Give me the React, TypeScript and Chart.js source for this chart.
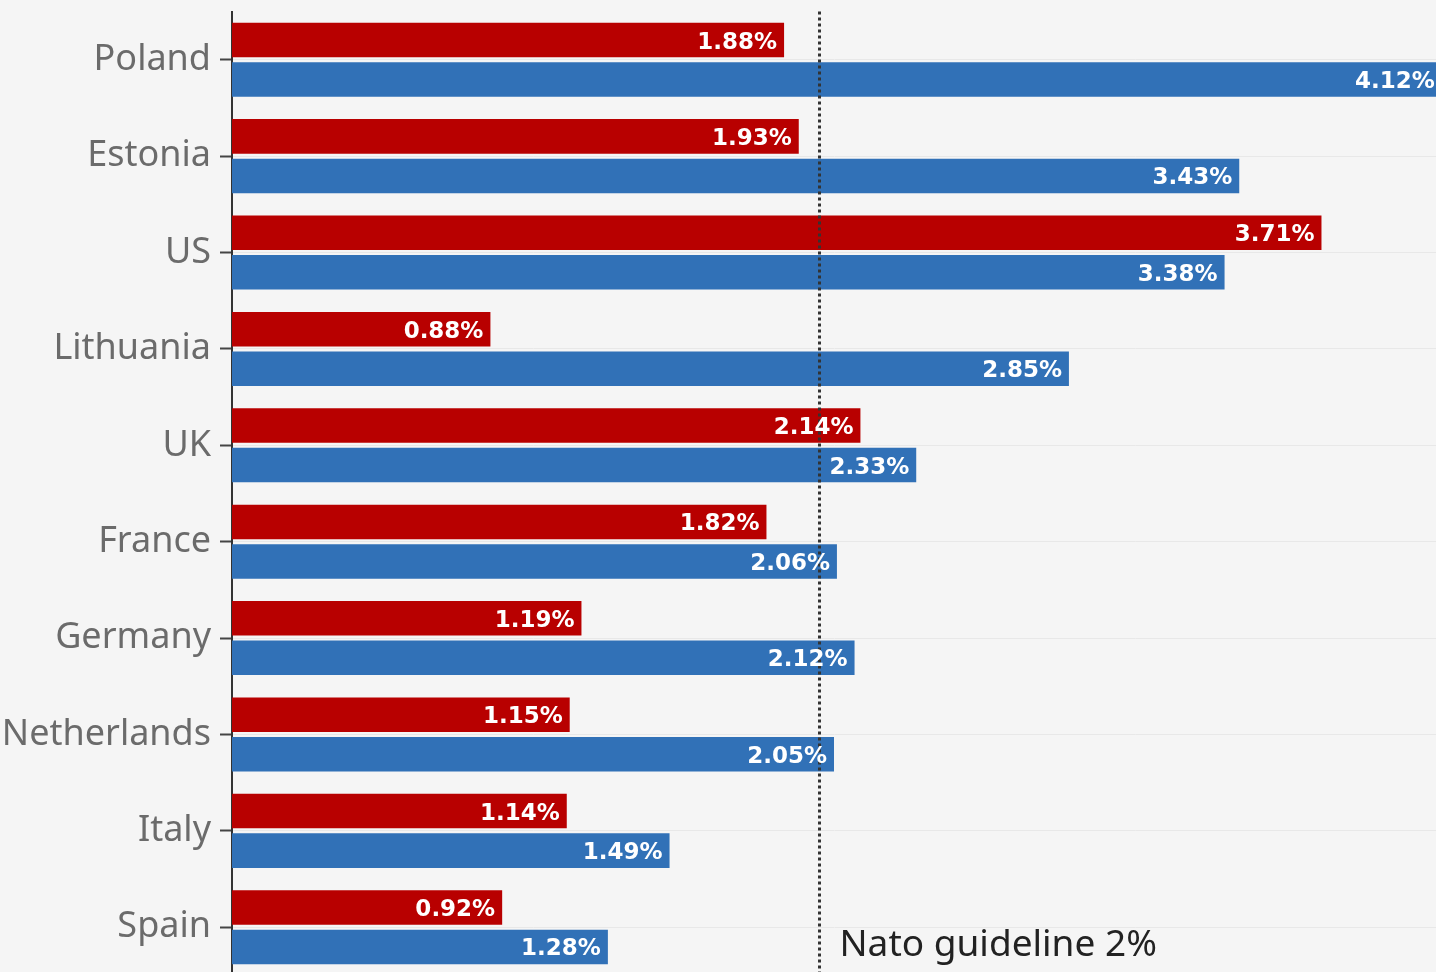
import React, { useEffect, useRef } from "react";
import { Chart, registerables } from "chart.js";

Chart.register(...registerables);

const categories = ["Poland", "Estonia", "US", "Lithuania", "UK", "France", "Germany", "Netherlands", "Italy", "Spain"];
const series2014 = [1.88, 1.93, 3.71, 0.88, 2.14, 1.82, 1.19, 1.15, 1.14, 0.92];
const series2023 = [4.12, 3.43, 3.38, 2.85, 2.33, 2.06, 2.12, 2.05, 1.49, 1.28];
const guidelineValue = 2;
const guidelineLabel = "Nato guideline 2%";

const RED = "#b80000";
const BLUE = "#3171b7";
const BG = "#f5f5f5";

const CANVAS_H = 1025;
const SHIFT = 19;

export default function App() {
  const ref = useRef<HTMLCanvasElement | null>(null);

  useEffect(() => {
    document.body.style.margin = "0";
    document.body.style.background = BG;
    const canvas = ref.current;
    if (!canvas) return;

    const guidelinePlugin = {
      id: "guideline",
      afterDatasetsDraw(chart: any) {
        const { ctx, chartArea } = chart;
        const x = Math.round(chart.scales.x.getPixelForValue(guidelineValue)) + 0.5;
        ctx.save();
        ctx.strokeStyle = "#333333";
        ctx.lineWidth = 3;
        ctx.setLineDash([3, 3]);
        ctx.beginPath();
        ctx.moveTo(x, chartArea.top);
        ctx.lineTo(x, chartArea.bottom);
        ctx.stroke();
        ctx.setLineDash([]);
        ctx.fillStyle = "#222222";
        ctx.font = "37px 'Noto Sans'";
        ctx.textAlign = "left";
        ctx.textBaseline = "alphabetic";
        ctx.fillText(guidelineLabel, x + 20, chartArea.bottom - 19);
        ctx.restore();
      },
    };

    const valueLabelPlugin = {
      id: "valueLabels",
      afterDatasetsDraw(chart: any) {
        const { ctx } = chart;
        const xScale = chart.scales.x;
        ctx.save();
        ctx.fillStyle = "#ffffff";
        ctx.font = "bold 23px 'DejaVu Sans'";
        ctx.textAlign = "right";
        ctx.textBaseline = "alphabetic";
        chart.data.datasets.forEach((ds: any, di: number) => {
          const meta = chart.getDatasetMeta(di);
          meta.data.forEach((bar: any, i: number) => {
            const v = ds.data[i];
            const end = xScale.getPixelForValue(v);
            ctx.fillText(v.toFixed(2) + "%", end - 7, bar.y + 8.5);
          });
        });
        ctx.restore();
      },
    };

    const chart = new Chart(canvas, {
      type: "bar",
      data: {
        labels: categories,
        datasets: [
          { label: "2014", data: series2014, backgroundColor: RED, categoryPercentage: 0.82, barPercentage: 0.875 },
          { label: "2023", data: series2023, backgroundColor: BLUE, categoryPercentage: 0.82, barPercentage: 0.875 },
        ],
      },
      options: {
        indexAxis: "y",
        animation: false,
        responsive: false,
        maintainAspectRatio: false,
        layout: { padding: { top: 11, bottom: 2, left: 0, right: 0 } },
        plugins: {
          legend: { display: false },
          tooltip: { enabled: false },
        },
        scales: {
          x: {
            min: 0,
            max: 4.1,
            display: false,
          },
          y: {
            afterFit(scale: any) {
              scale.width = 232;
            },
            border: { display: true, color: "#333333", width: 2 },
            grid: {
              offset: false,
              color: "#e8e8e8",
              lineWidth: 1,
              tickColor: "#444444",
              tickLength: 12,
              tickWidth: 2,
            },
            ticks: {
              color: "#6b6b6b",
              padding: 9,
              font: { family: "'Noto Sans'", size: 36 },
            },
          },
        },
      },
      plugins: [guidelinePlugin, valueLabelPlugin],
    });

    return () => chart.destroy();
  }, []);

  return (
    <div style={{ position: "fixed", left: 0, top: 0, width: 1436, height: 972, overflow: "hidden", background: BG }}>
      <canvas
        ref={ref}
        width={1436}
        height={CANVAS_H}
        style={{ width: 1436, height: CANVAS_H, display: "block", position: "absolute", left: 0, top: -SHIFT }}
      />
    </div>
  );
}
